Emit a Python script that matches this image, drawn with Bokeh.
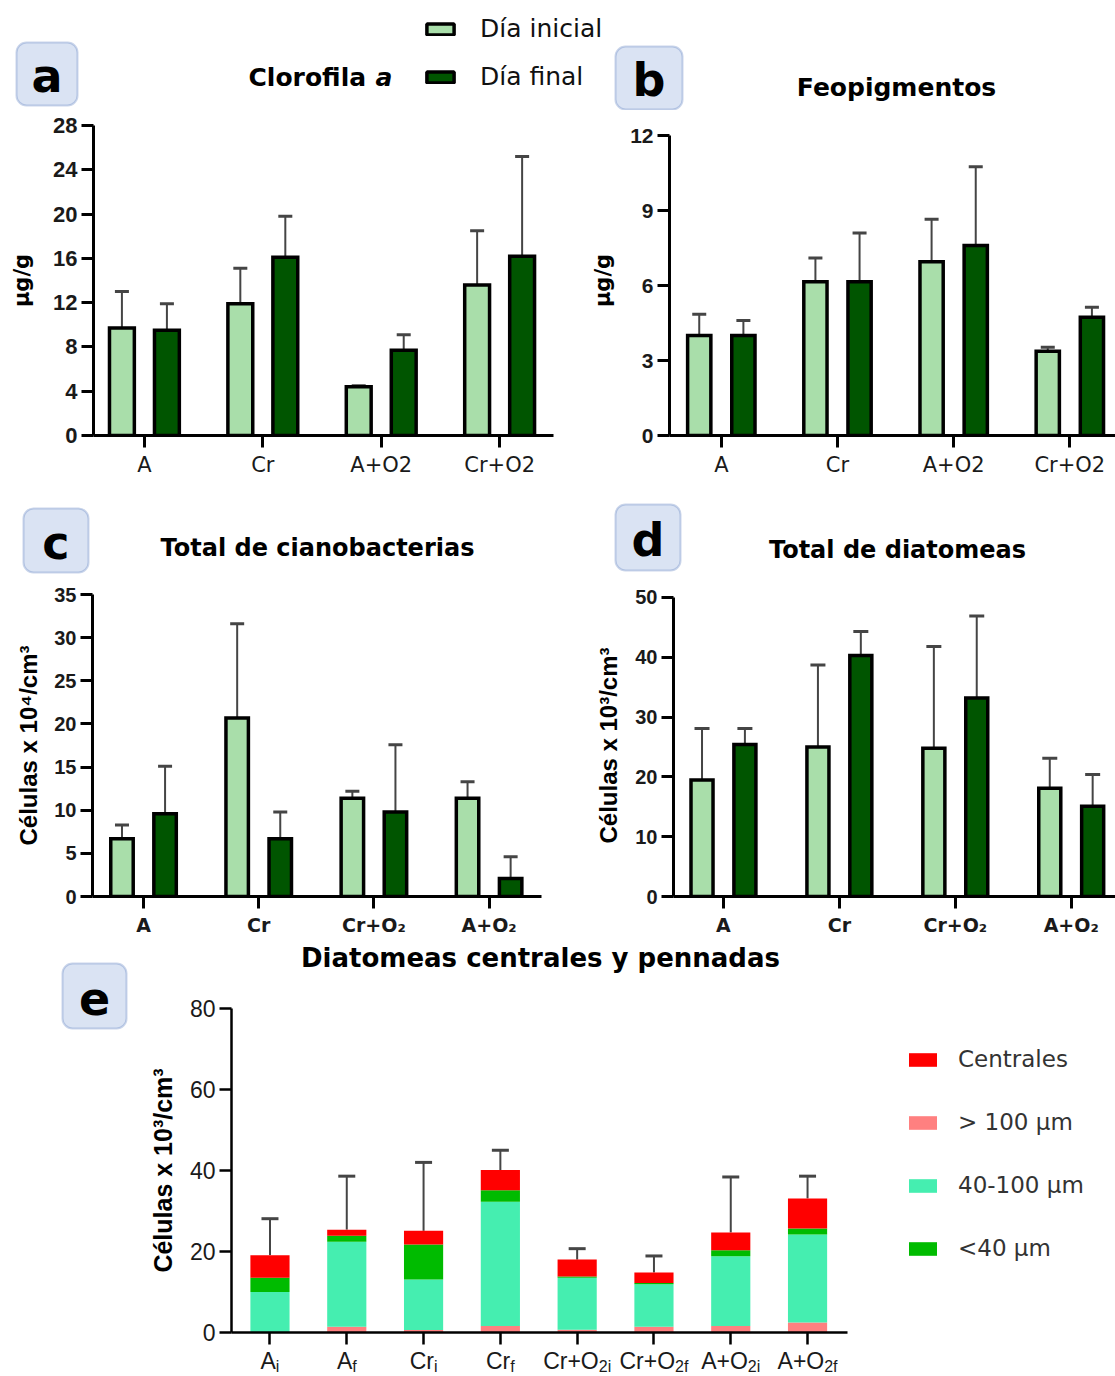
from bokeh.plotting import figure
from bokeh.models import (Range1d, FixedTicker, Whisker, TeeHead, Label, BoxAnnotation,
                          Legend, LegendItem, ColumnDataSource)
from bokeh.transform import dodge
from bokeh.layouts import column, row
from bokeh.embed import file_html
from bokeh.resources import INLINE

# ---------------- data ----------------
series = ["Día inicial", "Día final"]
groups_ab = ["A", "Cr", "A+O2", "Cr+O2"]
groups_cd = ["A", "Cr", "Cr+O₂", "A+O₂"]

clor_ini = [9.7, 11.9, 4.4, 13.6]
clor_ini_err = [13.0, 15.1, 4.5, 18.5]
clor_fin = [9.5, 16.1, 7.7, 16.2]
clor_fin_err = [11.9, 19.8, 9.1, 25.2]

feo_ini = [4.0, 6.15, 6.95, 3.37]
feo_ini_err = [4.85, 7.1, 8.65, 3.53]
feo_fin = [4.0, 6.15, 7.6, 4.73]
feo_fin_err = [4.6, 8.1, 10.75, 5.13]

ciano_ini = [6.7, 20.7, 11.4, 11.4]
ciano_ini_err = [8.3, 31.6, 12.2, 13.3]
ciano_fin = [9.6, 6.7, 9.8, 2.1]
ciano_fin_err = [15.1, 9.8, 17.6, 4.6]

diat_ini = [19.5, 25.0, 24.8, 18.1]
diat_ini_err = [28.1, 38.7, 41.8, 23.1]
diat_fin = [25.4, 40.3, 33.2, 15.1]
diat_fin_err = [28.1, 44.3, 46.9, 20.4]

e_base = ["A", "A", "Cr", "Cr", "Cr+O", "Cr+O", "A+O", "A+O"]
e_sub = ["i", "f", "i", "f", "2i", "2f", "2i", "2f"]
e_classes = ["Centrales", "> 100 µm", "40-100 µm", "<40 µm"]
e_gt100 = [0.0, 1.4, 0.6, 1.6, 0.7, 1.4, 1.6, 2.5]
e_40_100 = [10.0, 21.0, 12.5, 30.7, 12.8, 10.5, 17.2, 21.7]
e_lt40 = [3.5, 1.5, 8.6, 2.8, 0.3, 0.3, 1.5, 1.5]
e_centrales = [5.6, 1.5, 3.4, 5.0, 4.2, 2.6, 4.4, 7.4]
e_err = [28.1, 38.6, 42.0, 45.0, 20.7, 18.9, 38.4, 38.6]

# ---------------- style / geometry ----------------
LIGHT = "#a9deaa"
DARK = "#005500"
ERR = "#454545"
C_CEN, C_GT, C_MID, C_LT = "#ff0000", "#ff8080", "#45eeb0", "#00bb00"
BOX_FILL, BOX_LINE = "#dae3f3", "#4f73b8"
W = 1115
XE = (-0.501, 11.01)

G = {
    "t1": dict(px=0, py=0, w=W, h=110, l=0, r=0, t=0, b=0, xr=(0, W), yr=(110, 0)),
    "a": dict(px=0, py=110, w=588, h=380, l=93, r=35, t=15, b=55, xr=(-0.43, 3.455), yr=(0, 28)),
    "b": dict(px=588, py=110, w=527, h=380, l=79, r=0, t=15, b=55, xr=(-0.446, 3.393), yr=(0, 12.4)),
    "t2": dict(px=0, py=490, w=W, h=88, l=0, r=0, t=0, b=0, xr=(0, W), yr=(578, 490)),
    "c": dict(px=0, py=578, w=585, h=362, l=92, r=44, t=16, b=44, xr=(-0.443, 3.455), yr=(0, 35)),
    "d": dict(px=585, py=578, w=530, h=362, l=88, r=0, t=16, b=44, xr=(-0.431, 3.382), yr=(0, 50.5)),
    "le": dict(px=0, py=940, w=140, h=436, l=0, r=0, t=0, b=0, xr=(0, 140), yr=(1376, 940)),
    "t3": dict(px=140, py=940, w=975, h=54, l=91, r=0, t=0, b=0, xr=XE, yr=(994, 940)),
    "e": dict(px=140, py=994, w=975, h=352, l=91, r=0, t=14, b=14, xr=XE, yr=(0, 80)),
    "be": dict(px=140, py=1346, w=975, h=30, l=91, r=0, t=0, b=0, xr=XE, yr=(1376, 1346)),
}


def px(g, X, Y):
    fl = g["px"] + g["l"]
    ft = g["py"] + g["t"]
    fw = g["w"] - g["l"] - g["r"]
    fh = g["h"] - g["t"] - g["b"]
    x0, x1 = g["xr"]
    y0, y1 = g["yr"]
    return x0 + (X - fl) / fw * (x1 - x0), y0 + (ft + fh - Y) / fh * (y1 - y0)


def make(g, axes=True, x_range=None):
    kw = {}
    if not axes:
        kw = dict(x_axis_location=None, y_axis_location=None)
    p = figure(width=g["w"], height=g["h"],
               x_range=x_range if x_range is not None else Range1d(*g["xr"]),
               y_range=Range1d(*g["yr"]),
               output_backend="svg", toolbar_location=None,
               min_border_left=g["l"], min_border_right=g["r"],
               min_border_top=g["t"], min_border_bottom=g["b"],
               background_fill_color="white", border_fill_color="white",
               outline_line_color=None, **kw)
    p.grid.visible = False
    return p


def text(p, g, X, Y, s, size, font="DejaVu Sans", style="bold", align="left",
         color="black"):
    # (X, Y): page position of the text's left/centre edge and vertical middle
    x, y = px(g, X, Y)
    p.add_layout(Label(x=x, y=y, text=s, text_font=font, text_font_size=f"{size}px",
                       text_font_style=style, text_align=align, text_baseline="middle",
                       text_color=color))


def box(p, g, X0, Y0, X1, Y1, letter):
    l, b = px(g, X0, Y1)
    r, t = px(g, X1, Y0)
    p.add_layout(BoxAnnotation(left=l, right=r, bottom=b, top=t, fill_color=BOX_FILL,
                               fill_alpha=1, line_color=BOX_LINE, line_width=2,
                               border_radius=10))
    text(p, g, (X0 + X1) / 2, (Y0 + Y1) / 2 + 2, letter, 46, align="center")


def style_axes(p, yticks, ylabel, ytick_font, ytick_size, ylab_font, ylab_size, ylab_standoff,
               xcats, xfont="DejaVu Sans", xsize=21, xstyle="normal", lw=3, ytick_style="bold",
               ybounds=None, xbounds=None):
    for ax in (p.xaxis[0], p.yaxis[0]):
        ax.axis_line_width = lw
        ax.axis_line_color = "black"
        ax.major_tick_line_width = lw
        ax.major_tick_line_color = "black"
        ax.major_tick_out = 12
        ax.major_tick_in = 0
        ax.minor_tick_out = 0
        ax.minor_tick_in = 0
        ax.major_label_text_color = "#1a1a1a"
    y = p.yaxis[0]
    y.ticker = FixedTicker(ticks=yticks)
    y.major_label_text_font = ytick_font
    y.major_label_text_font_size = f"{ytick_size}px"
    y.major_label_text_font_style = ytick_style
    y.major_label_standoff = 4
    y.axis_label = ylabel
    y.axis_label_text_font = ylab_font
    y.axis_label_text_font_size = f"{ylab_size}px"
    y.axis_label_text_font_style = "bold"
    y.axis_label_text_color = "black"
    y.axis_label_standoff = ylab_standoff
    if ybounds is not None:
        y.bounds = ybounds
    x = p.xaxis[0]
    x.ticker = FixedTicker(ticks=list(range(len(xcats))))
    if xbounds is not None:
        x.bounds = xbounds
    if xcats[0] == "":
        x.major_label_text_font_size = "0px"
        x.major_label_standoff = 0
        x.major_label_overrides = {i: "" for i in range(len(xcats))}
    else:
        x.major_label_overrides = {i: c for i, c in enumerate(xcats)}
        x.major_label_text_font = xfont
        x.major_label_text_font_size = f"{xsize}px"
        x.major_label_text_font_style = xstyle
        x.major_label_standoff = 5


def bars(p, cats, ini, ini_err, fin, fin_err, off, width, cap):
    src = ColumnDataSource(dict(x=list(range(len(cats))), ini=ini, ini_err=ini_err,
                                fin=fin, fin_err=fin_err))
    for key, col, sign in (("ini", LIGHT, -1), ("fin", DARK, 1)):
        xs = dodge("x", sign * off, range=p.x_range)
        p.vbar(x=xs, top=key, bottom=0, width=width, source=src, fill_color=col,
               line_color="black", line_width=3.5, line_join="miter")
        p.add_layout(Whisker(base=xs, lower=key, upper=key + "_err", source=src,
                             line_color=ERR, line_width=2,
                             upper_head=TeeHead(size=cap, line_color=ERR, line_width=3),
                             lower_head=None))


# ---------------- top strip: legend, panel letters and titles of a, b ----------------
g1 = G["t1"]
t1 = make(g1, axes=False)
src_leg = ColumnDataSource(dict(x=list(range(len(groups_ab))), ini=clor_ini, fin=clor_fin))
r_ini = t1.vbar(x="x", top="ini", width=0.2, source=src_leg, fill_color=LIGHT,
                line_color="black", line_width=3.5, visible=False)
r_fin = t1.vbar(x="x", top="fin", width=0.2, source=src_leg, fill_color=DARK,
                line_color="black", line_width=3.5, visible=False)
leg_a = Legend(items=[LegendItem(label=series[0], renderers=[r_ini]),
                      LegendItem(label=series[1], renderers=[r_fin])],
               location=(423, 19), orientation="vertical", border_line_color=None,
               background_fill_alpha=0, padding=0, margin=0, spacing=19,
               glyph_width=34, glyph_height=14, label_standoff=23,
               label_text_font="DejaVu Sans", label_text_font_size="25px",
               label_text_color="#111111")
t1.add_layout(leg_a)
box(t1, g1, 16, 42, 77, 105, "a")
box(t1, g1, 615, 46, 682, 109, "b")
text(t1, g1, 248, 77, "Clorofila", 25)
text(t1, g1, 375, 77, "a", 25, style="bold italic")
text(t1, g1, 896, 87, "Feopigmentos", 25, align="center")

# ---------------- panel a ----------------
ga = G["a"]
pa = make(ga)
style_axes(pa, list(range(0, 29, 4)), "µg/g", "Liberation Sans", 22, "DejaVu Sans", 21, 16,
           xcats=groups_ab)
bars(pa, groups_ab, clor_ini, clor_ini_err, clor_fin, clor_fin_err, 0.19, 0.21, 14)

# ---------------- panel b ----------------
gb = G["b"]
pb = make(gb)
style_axes(pb, [0, 3, 6, 9, 12], "µg/g", "Liberation Sans", 21, "DejaVu Sans", 21, 12,
           xcats=groups_ab, ybounds=(0, 12))
bars(pb, groups_ab, feo_ini, feo_ini_err, feo_fin, feo_fin_err, 0.19, 0.2, 14)

# ---------------- strip 2: letters and titles of c, d ----------------
g2 = G["t2"]
t2 = make(g2, axes=False)
box(t2, g2, 23, 508, 88, 572, "c")
text(t2, g2, 317, 547, "Total de cianobacterias", 24, align="center")
box(t2, g2, 615, 504, 680, 570, "d")
text(t2, g2, 897, 549, "Total de diatomeas", 24, align="center")

# ---------------- panel c ----------------
gc = G["c"]
pc = make(gc)
style_axes(pc, list(range(0, 36, 5)), "Células x 10⁴/cm³", "Liberation Sans", 20,
           "Liberation Sans", 24, 9, xcats=groups_cd, xsize=19, xstyle="bold")
bars(pc, groups_cd, ciano_ini, ciano_ini_err, ciano_fin, ciano_fin_err, 0.187, 0.195, 14)

# ---------------- panel d ----------------
gd = G["d"]
pd_ = make(gd)
style_axes(pd_, list(range(0, 51, 10)), "Células x 10³/cm³", "Liberation Sans", 20,
           "Liberation Sans", 24, 10, xcats=groups_cd, xsize=19, xstyle="bold",
           ybounds=(0, 50))
bars(pd_, groups_cd, diat_ini, diat_ini_err, diat_fin, diat_fin_err, 0.185, 0.19, 15)

# ---------------- panel e ----------------
gle = G["le"]
le = make(gle, axes=False)
box(le, gle, 62, 963, 126, 1028, "e")

ge = G["e"]
pe = make(ge)
style_axes(pe, list(range(0, 81, 20)), "Células x 10³/cm³", "Liberation Sans", 23,
           "Liberation Sans", 25, 10, xcats=[""] * len(e_base), lw=2.5, ytick_style="normal",
           xbounds=(XE[0], 7.52))
n_e = len(e_base)
totals = [a + b + c + d for a, b, c, d in zip(e_gt100, e_40_100, e_lt40, e_centrales)]
src_e = ColumnDataSource(dict(x=list(range(n_e)), gt100=e_gt100, mid=e_40_100, lt40=e_lt40,
                              cen=e_centrales, total=totals, err=e_err))
rs = pe.vbar_stack(["gt100", "mid", "lt40", "cen"], x="x", width=0.51, source=src_e,
                   color=[C_GT, C_MID, C_LT, C_CEN], line_color=None)
pe.add_layout(Whisker(base="x", lower="total", upper="err", source=src_e, line_color=ERR,
                      line_width=2, upper_head=TeeHead(size=17, line_color=ERR, line_width=3),
                      lower_head=None))
leg_e = Legend(items=[LegendItem(label=e_classes[0], renderers=[rs[3]]),
                      LegendItem(label=e_classes[1], renderers=[rs[0]]),
                      LegendItem(label=e_classes[2], renderers=[rs[1]]),
                      LegendItem(label=e_classes[3], renderers=[rs[2]])],
               location=(674, 71), orientation="vertical", border_line_color=None,
               background_fill_alpha=0, padding=0, margin=0, spacing=37,
               glyph_width=35, glyph_height=17, label_standoff=18,
               label_text_font="DejaVu Sans", label_text_font_size="23px",
               label_text_color="#333333")
pe.add_layout(leg_e)

g3 = G["t3"]
t3 = make(g3, axes=False, x_range=pe.x_range)
text(t3, g3, 540, 957, "Diatomeas centrales y pennadas", 26, align="center")

# category labels of e with subscripts
gbe = G["be"]
be = make(gbe, axes=False, x_range=pe.x_range)
ARIAL = {"A": .667, "C": .722, "r": .333, "+": .584, "O": .778, "2": .556, "i": .222, "f": .278}
for i, (b_, s_) in enumerate(zip(e_base, e_sub)):
    wb = sum(ARIAL[c] for c in b_) * 23
    ws = sum(ARIAL[c] for c in s_) * 16
    off = (wb - ws) / 2
    be.add_layout(Label(x=i, y=1360, x_offset=off, text=b_, text_align="right",
                        text_baseline="middle", text_font="Liberation Sans",
                        text_font_size="23px", text_color="#1a1a1a"))
    be.add_layout(Label(x=i, y=1366, x_offset=off, text=s_, text_align="left",
                        text_baseline="middle", text_font="Liberation Sans",
                        text_font_size="16px", text_color="#1a1a1a"))

layout = column(t1, row(pa, pb), t2, row(pc, pd_), row(le, column(t3, pe, be)))
open("out.html", "w").write(file_html(layout, INLINE))
